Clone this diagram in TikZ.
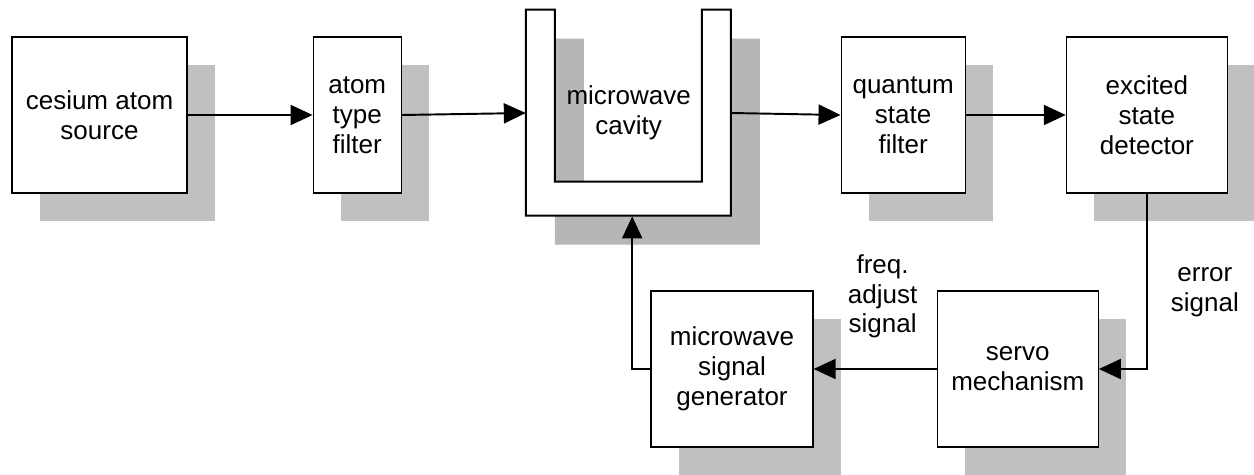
\documentclass[tikz,border=0pt]{standalone}
\usepackage{fontspec}
\setmainfont{Liberation Sans}
\usepackage{tikz}
\usetikzlibrary{positioning,shadows,arrows.meta,calc}
\definecolor{shade}{RGB}{192,192,192}
\definecolor{cavshade}{RGB}{182,182,182}
% U shaped cavity outline, drawn from its top left corner
\def\cavityU{-- ++(0.58,0) -- ++(0,-3.44) -- ++(2.94,0) -- ++(0,3.44)
  -- ++(0.58,0) -- ++(0,-4.12) -- ++(-4.1,0) -- cycle}

\begin{document}
\begin{tikzpicture}[font=\fontsize{14.8}{17}\selectfont,
                      block/.style = {shape=rectangle, draw, line width=0.7pt,
                        fill=white, align=center, minimum height=3.12cm,
                        drop shadow={shadow xshift=0.56cm, shadow yshift=-0.56cm,
                          fill=shade, opacity=1}},
                      lbl/.style = {align=center},
                      flow/.style = {line width=1.1pt,
                        -{Triangle[length=0.44cm,width=0.4cm]}}]
  \useasboundingbox (0,0) rectangle (25.08,-9.5);

  % upper row
  \node[block, minimum width=3.5cm] (src) at (1.99,-2.3) {cesium atom\\source};
  \node[block, minimum width=1.76cm, right=2.5cm of src] (atf) {atom\\type\\filter};
  \node[lbl, minimum width=4.1cm, minimum height=4.12cm,
        right=2.48cm of atf, yshift=0.04cm] (cav) {};
  \node[block, minimum width=2.48cm, right=2.18cm of cav, yshift=-0.04cm] (qsf)
        {quantum\\state\\filter};
  \node[block, minimum width=3.22cm, right=2.0cm of qsf] (det)
        {excited\\state\\detector};

  % the cavity
  \fill[cavshade] ($(cav.north west)+(0.58,-0.58)$) \cavityU;
  \draw[fill=white, line width=1.2pt] (cav.north west) \cavityU;
  \node[lbl] at (cav.center) {microwave\\cavity};

  % lower row
  \node[block, minimum width=3.24cm] (gen) at (14.64,-7.38)
        {microwave\\signal\\generator};
  \node[block, minimum width=3.22cm, right=2.46cm of gen] (srv)
        {servo\\mechanism};

  \node[lbl] (adj) at ($(gen.north east)+(1.38,-0.12)$) {freq.\\adjust\\signal};
  \node[lbl] (err) at ($(srv.north east)+(2.12,-0.04)$) {error\\signal};

  % connectors
  \draw[flow] (src) -- (atf);
  \draw[flow] (atf.east) -- (cav.west);
  \draw[flow] (cav.east) -- (qsf.west);
  \draw[flow] (qsf) -- (det);
  \draw[flow] (det.south) |- (srv.east);
  \draw[flow] (srv) -- (gen);
  \draw[flow] (gen.west) -| ($(cav.south)+(0.07,0)$);
\end{tikzpicture}
\end{document}
